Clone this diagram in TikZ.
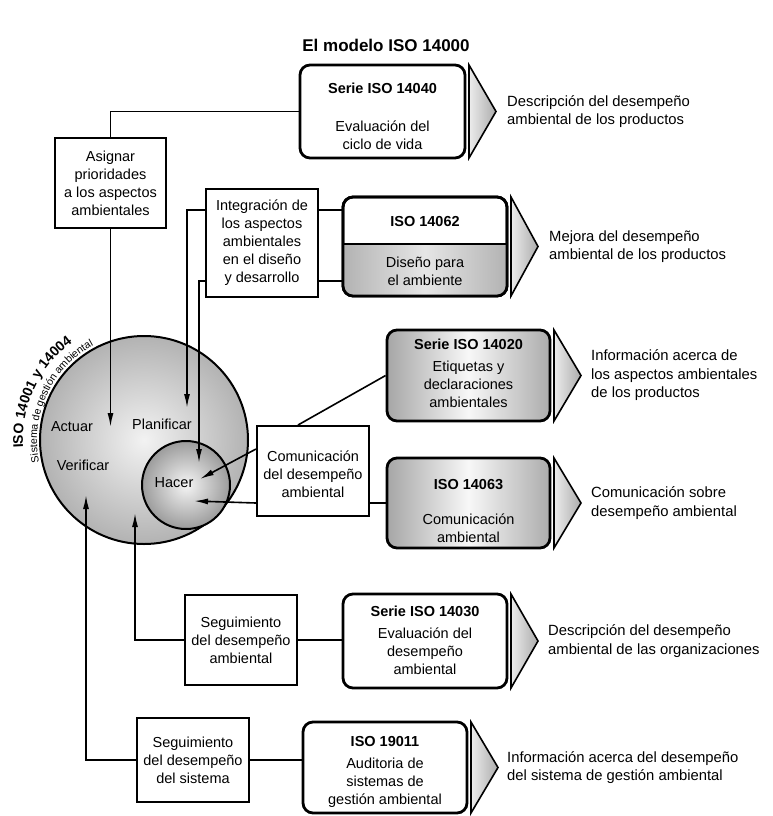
\documentclass[tikz,border=0pt]{standalone}
\usepackage{fontspec}
\setmainfont{Liberation Sans}
\usetikzlibrary{arrows.meta,decorations.text}
\begin{document}
\begin{tikzpicture}[x=1pt,y=-1pt,
  txt/.style={font=\fontsize{14.5}{18}\selectfont, align=center, inner sep=0pt},
  btxt/.style={font=\fontsize{14.5}{18}\selectfont\bfseries, align=center, inner sep=0pt},
  desc/.style={font=\fontsize{14.8}{18.5}\selectfont, align=left, anchor=west, inner sep=0pt},
  sqbox/.style={draw, line width=2pt, fill=white, inner sep=0pt},
  rbox/.style={draw, line width=2.8pt, rounded corners=10pt, inner sep=0pt},
  gshade/.style={left color=gray!70, right color=gray!65, middle color=gray!6},
  chev/.style={draw, line width=1.6pt, left color=gray!15, right color=gray!65},
  conn/.style={line width=1.6pt},
  arr/.style={conn, -{Latex[length=14pt,width=6pt]}}]
\useasboundingbox (0,0) rectangle (772,816);
\fill[white] (0,0) rectangle (772,816);

\node[font=\fontsize{17}{20}\selectfont\bfseries] (title) at (386,45) {El modelo ISO 14000};

% circles
\node[circle, draw, line width=2pt, minimum size=208pt, inner color=gray!10, outer color=gray!60] (big) at (144,440) {};
\node[circle, draw, line width=2pt, minimum size=88pt, inner color=gray!8, outer color=gray!78] (hacer) at (186,485) {};
\node[txt] (lact) at (72,427) {Actuar};
\node[txt] (lplan) at (162,424) {Planificar};
\node[txt] (lver) at (83,465) {Verificar};
\node[txt] (lhac) at (174,483) {Hacer};

% curved texts
\path[decorate, decoration={text along path, text align=center,
  text={|\fontsize{14}{14}\selectfont\bfseries|ISO 14001 y 14004}}]
  (144,440) ++(145:121) arc[start angle=145, end angle=265, radius=121];
\path[decorate, decoration={text along path, text align=center,
  text={|\fontsize{10.5}{10.5}\selectfont|Sistema de gestión ambiental}}]
  (144,440) ++(140:107) arc[start angle=140, end angle=270, radius=107];

% connector end points
\coordinate (tA) at (110.5,427);
\coordinate (tP1) at (187,408);
\coordinate (tP2) at (199,463);
\coordinate (tH1) at (200,479);
\coordinate (tH2) at (194,501);
\coordinate (tV1) at (135,513);
\coordinate (tV2) at (86,495);

% rectangular boxes
\node[sqbox, minimum width=111pt, minimum height=90pt] (asg) at (110.5,183) {};
\node[sqbox, minimum width=112pt, minimum height=108pt] (integ) at (262,243) {};
\node[sqbox, minimum width=112pt, minimum height=90pt] (com) at (313,471) {};
\node[sqbox, minimum width=112pt, minimum height=90pt] (seg1) at (241,640) {};
\node[sqbox, minimum width=112pt, minimum height=84pt] (seg2) at (193,760) {};

% rounded boxes
\node[rbox, fill=white, minimum width=165pt, minimum height=93pt] (s40) at (382.5,111.5) {};
\node[rbox, fill=white, minimum width=164pt, minimum height=99pt] (s62) at (425,246.5) {};
\begin{scope}
  \clip[rounded corners=10pt] (343,197) rectangle (507,296);
  \shade[left color=gray!60, right color=gray!60, middle color=gray!20] (343,244) rectangle (507,296);
\end{scope}
\draw[line width=1.5pt] (343,244) -- (507,244);
\node[rbox, minimum width=164pt, minimum height=99pt] (s62b) at (425,246.5) {};
\node[rbox, gshade, minimum width=163pt, minimum height=91pt] (s20) at (468.5,375.5) {};
\node[rbox, gshade, minimum width=163pt, minimum height=90pt] (s63) at (468.5,503) {};
\node[rbox, fill=white, minimum width=164pt, minimum height=94pt] (s30) at (425,641) {};
\node[rbox, fill=white, minimum width=164pt, minimum height=91pt] (s19) at (385,767.5) {};

% chevrons
\draw[chev] (469,65) -- (496,111.5) -- (469,158) -- cycle;
\draw[chev] (511,197) -- (538,246.5) -- (511,296) -- cycle;
\draw[chev] (554,330) -- (581,375.5) -- (554,421) -- cycle;
\draw[chev] (554,458) -- (581,503) -- (554,548) -- cycle;
\draw[chev] (511,594) -- (538,641) -- (511,688) -- cycle;
\draw[chev] (471,722) -- (498,767.5) -- (471,813) -- cycle;

% box texts
\node[txt] (tasg) at (asg) {Asignar\\prioridades\\a los aspectos\\ambientales};
\node[txt] (tinteg) at (integ) {Integración de\\los aspectos\\ambientales\\en el diseño\\y desarrollo};
\node[txt] (tcom) at (313,474) {Comunicación\\del desempeño\\ambiental};
\node[txt] (tseg1) at (seg1) {Seguimiento\\del desempeño\\ambiental};
\node[txt] (tseg2) at (seg2) {Seguimiento\\del desempeño\\del sistema};

\node[btxt] (h40) at (382.5,88) {Serie ISO 14040};
\node[txt] (b40) at (382.5,135) {Evaluación del\\ciclo de vida};
\node[btxt] (h62) at (425,222) {ISO 14062};
\node[txt] (b62) at (425,271) {Diseño para\\el ambiente};
\node[btxt] (h20) at (468.5,344) {Serie ISO 14020};
\node[txt] (b20) at (468.5,384) {Etiquetas y\\declaraciones\\ambientales};
\node[btxt] (h63) at (468.5,485) {ISO 14063};
\node[txt] (b63) at (468.5,528) {Comunicación\\ambiental};
\node[btxt] (h30) at (425,611) {Serie ISO 14030};
\node[txt] (b30) at (425,651) {Evaluación del\\desempeño\\ambiental};
\node[btxt] (h19) at (385,741) {ISO 19011};
\node[txt] (b19) at (385,783) {Auditoria de\\sistemas de\\gestión ambiental};

% descriptions
\node[desc] (d40) at (507,111.5) {Descripción del desempeño\\ambiental de los productos};
\node[desc] (d62) at (549,246.5) {Mejora del desempeño\\ambiental de los productos};
\node[desc] (d20) at (591,375.5) {Información acerca de\\los aspectos ambientales\\de los productos};
\node[desc] (d63) at (591,503) {Comunicación sobre\\desempeño ambiental};
\node[desc] (d30) at (548,641) {Descripción del desempeño\\ambiental de las organizaciones};
\node[desc] (d19) at (507,767.5) {Información acerca del desempeño\\del sistema de gestión ambiental};

% connectors
\draw[conn] (asg.north) |- (s40.west);
\draw[arr] (asg.south) -- (tA);
\draw[arr] ([yshift=-22pt]integ.north west) -| (tP1);
\draw[arr] ([yshift=17pt]integ.south west) -| (tP2);
\draw[conn] ([yshift=-22pt]integ.north east) coordinate (p1) -- (p1 -| s62.west);
\draw[conn] ([yshift=17pt]integ.south east) coordinate (p2) -- (p2 -| s62.west);
\draw[conn] ([xshift=-15pt]com.north) -- (s20.west);
\draw[arr] ([yshift=-24pt]com.north west) -- (tH1);
\draw[arr] ([yshift=14pt]com.south west) -- (tH2);
\draw[conn] ([yshift=14pt]com.south east) coordinate (p3) -- (p3 -| s63.west);
\draw[conn] (seg1.east) -- (seg1.east -| s30.west);
\draw[arr] (seg1.west) -| (tV1);
\draw[conn] (seg2.east) -- (seg2.east -| s19.west);
\draw[arr] (seg2.west) -| (tV2);
\end{tikzpicture}
\end{document}
